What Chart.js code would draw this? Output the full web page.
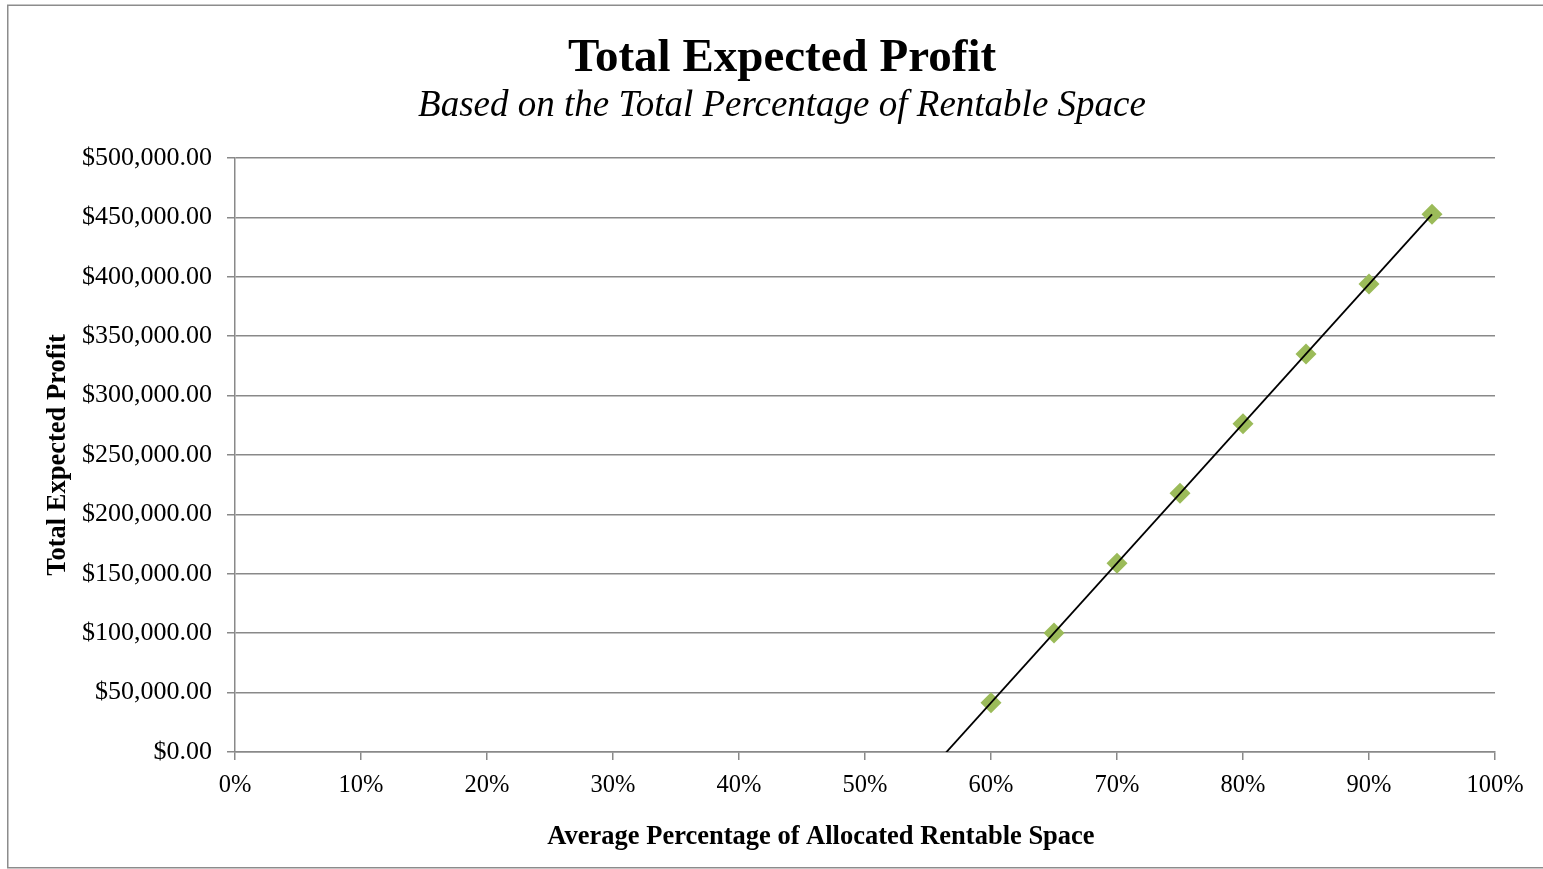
<!DOCTYPE html>
<html><head><meta charset="utf-8">
<script src="https://cdn.jsdelivr.net/npm/chart.js@4.4.1/dist/chart.umd.min.js"></script>
<style>html,body{margin:0;padding:0;background:#fff;overflow:hidden}canvas{display:block}</style>
</head><body>
<canvas id="c" width="1543" height="869"></canvas>
<script>
// ---- data ----
const occupancyPct = [60, 65, 70, 75, 80, 85, 90, 95];
const expectedProfit = [41500, 100200, 158900, 217700, 276400, 335100, 393900, 452600];
const xTickValues = [0, 10, 20, 30, 40, 50, 60, 70, 80, 90, 100];
const yTickValues = [0, 50000, 100000, 150000, 200000, 250000, 300000, 350000, 400000, 450000, 500000];
const chartTitle = 'Total Expected Profit';
const chartSubtitle = 'Based on the Total Percentage of Rentable Space';
const xAxisTitle = 'Average Percentage of Allocated Rentable Space';
const yAxisTitle = 'Total Expected Profit';
const trendRange = [50, 95];

// linear trendline (least squares) from the data, like the original's trendline
const n = occupancyPct.length;
const mx = occupancyPct.reduce((a, b) => a + b, 0) / n;
const my = expectedProfit.reduce((a, b) => a + b, 0) / n;
let sxy = 0, sxx = 0;
occupancyPct.forEach((x, i) => { sxy += (x - mx) * (expectedProfit[i] - my); sxx += (x - mx) * (x - mx); });
const slope = sxy / sxx, intercept = my - slope * mx;
const trendPoints = trendRange.map(x => ({x: x, y: intercept + slope * x}));

const FONT = "'Liberation Serif', 'Times New Roman', serif";
const GRID = '#898989';
Chart.defaults.font.family = FONT;
Chart.defaults.color = '#000';

const framePlugin = {
  id: 'frame',
  beforeDraw(chart) {
    const ctx = chart.ctx;
    ctx.save();
    ctx.fillStyle = '#fff';
    ctx.fillRect(0, 0, chart.width, chart.height);
    ctx.strokeStyle = '#8c8c8c';
    ctx.lineWidth = 1.5;
    ctx.strokeRect(7.75, 5.25, 1600, 862.5);
    ctx.restore();
  },
  afterDraw(chart) {
    const ctx = chart.ctx;
    ctx.save();
    ctx.font = 'bold 26.5px ' + FONT;
    ctx.fillStyle = '#000';
    ctx.textAlign = 'center';
    ctx.textBaseline = 'middle';
    ctx.fillText(xAxisTitle, 821, 837);
    ctx.restore();
  }
};

new Chart(document.getElementById('c'), {
  type: 'scatter',
  data: {
    datasets: [
      {
        type: 'line',
        label: 'Trend',
        data: trendPoints,
        borderColor: '#000',
        borderWidth: 1.8,
        pointRadius: 0,
        fill: false,
        order: 0
      },
      {
        label: 'Total Expected Profit',
        data: occupancyPct.map((x, i) => ({x: x, y: expectedProfit[i]})),
        pointStyle: 'rectRot',
        pointRadius: 10.5,
        pointBackgroundColor: '#9BBB59',
        pointBorderColor: '#9BBB59',
        pointBorderWidth: 0,
        showLine: false,
        order: 1
      }
    ]
  },
  options: {
    responsive: false,
    animation: false,
    layout: { padding: { left: 21, right: 0, top: 0, bottom: 0 } },
    plugins: {
      legend: { display: false },
      tooltip: { enabled: false },
      title: {
        display: true,
        text: chartTitle,
        font: { size: 47, weight: 'bold', family: FONT, lineHeight: 1.0 },
        color: '#000',
        padding: { top: 35.5, bottom: 0 }
      },
      subtitle: {
        display: true,
        text: chartSubtitle,
        font: { size: 37, style: 'italic', family: FONT, lineHeight: 1.0 },
        color: '#000',
        padding: { top: 5, bottom: 33.5 }
      }
    },
    scales: {
      x: {
        type: 'linear',
        position: 'bottom',
        min: 0, max: 100,
        afterBuildTicks(s) { s.ticks = xTickValues.map(v => ({value: v})); },
        afterFit(s) { s.height = 117; },
        ticks: {
          callback: v => v + '%',
          font: { size: 24.5, family: FONT },
          color: '#000',
          padding: 11,
          maxRotation: 0,
          autoSkip: false
        },
        grid: { drawOnChartArea: false, drawTicks: true, tickLength: 8, color: GRID, lineWidth: 1.5 },
        border: { display: true, color: GRID, width: 1.5 }
      },
      y: {
        type: 'linear',
        position: 'left',
        min: 0, max: 500000,
        afterBuildTicks(s) { s.ticks = yTickValues.map(v => ({value: v})); },
        afterFit(s) { s.width = 214; },
        ticks: {
          callback: v => '$' + Number(v).toLocaleString('en-US', {minimumFractionDigits: 2, maximumFractionDigits: 2}),
          font: { size: 26, family: FONT },
          color: '#000',
          padding: 15
        },
        grid: { drawOnChartArea: true, drawTicks: true, tickLength: 8, color: GRID, lineWidth: 1.5 },
        border: { display: true, color: GRID, width: 1.5 },
        title: {
          display: true,
          text: yAxisTitle,
          font: { size: 26.5, weight: 'bold', family: FONT },
          color: '#000',
          padding: { top: 21, bottom: 0 }
        }
      },
      yRight: {
        type: 'linear',
        position: 'right',
        display: true,
        grid: { display: false, drawTicks: false },
        ticks: { display: false },
        border: { display: false },
        afterFit(s) { s.width = 48; }
      }
    }
  },
  plugins: [framePlugin]
});
</script>
</body></html>
